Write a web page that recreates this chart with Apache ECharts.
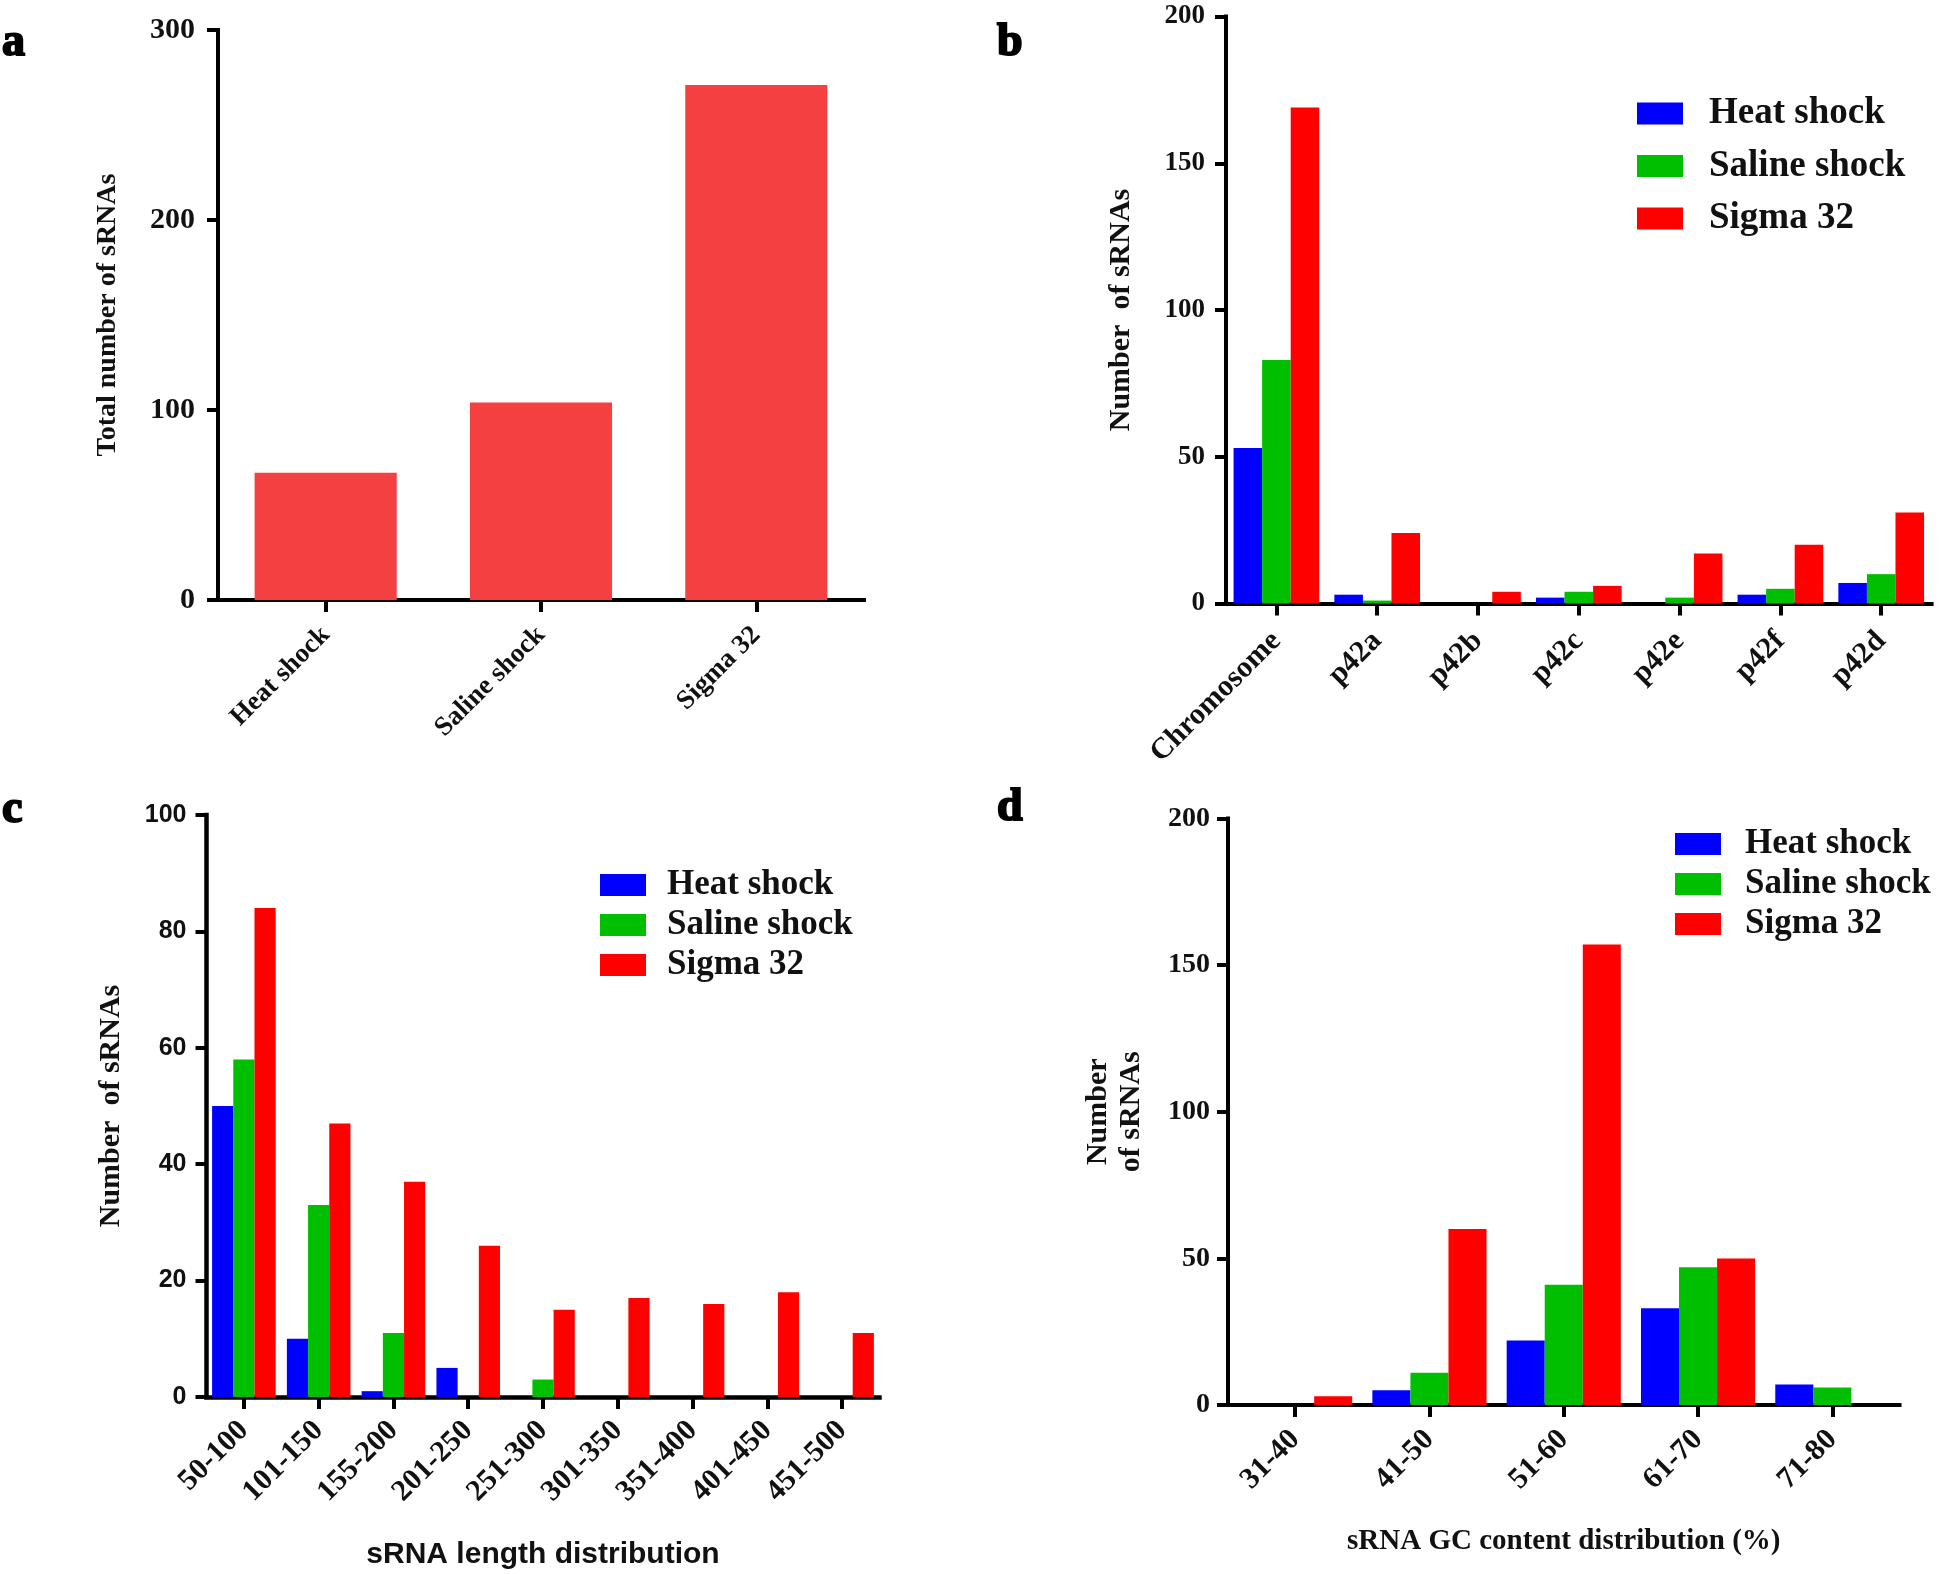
<!DOCTYPE html>
<html>
<head>
<meta charset="utf-8">
<script src="https://cdn.jsdelivr.net/npm/echarts@6/dist/echarts.min.js"></script>
<style>
  html, body { margin: 0; padding: 0; background: #fff; }
  #chart { width: 1946px; height: 1574px; }
</style>
</head>
<body>
<div id="chart"></div>
<script>
// ---- Data ----
const totalCategories = ['Heat shock', 'Saline shock', 'Sigma 32'];
const totalCounts = [67, 104, 271];
const totalTicks = [0, 100, 200, 300];

const seriesNames = ['Heat shock', 'Saline shock', 'Sigma 32'];

const replicons = ['Chromosome', 'p42a', 'p42b', 'p42c', 'p42e', 'p42f', 'p42d'];
const repHeat = [53, 3, 0, 2, 0, 3, 7];
const repSaline = [83, 1, 0, 4, 2, 5, 10];
const repSigma = [169, 24, 4, 6, 17, 20, 31];

const lengthBins = ['50-100', '101-150', '155-200', '201-250', '251-300', '301-350', '351-400', '401-450', '451-500'];
const lenHeat = [50, 10, 1, 5, 0, 0, 0, 0, 0];
const lenSaline = [58, 33, 11, 0, 3, 0, 0, 0, 0];
const lenSigma = [84, 47, 37, 26, 15, 17, 16, 18, 11];

const gcBins = ['31-40', '41-50', '51-60', '61-70', '71-80'];
const gcHeat = [0, 5, 22, 33, 7];
const gcSaline = [0, 11, 41, 47, 6];
const gcSigma = [3, 60, 157, 50, 0];

// ---- Styles ----
const SERIF = "'Liberation Serif', 'Times New Roman', serif";
const SANS = "'Liberation Sans', Arial, sans-serif";
const BLUE = '#0000ff', GREEN = '#00bf00', RED = '#ff0000', TOTAL_RED = '#f44040';
const INK = '#111';

function xCat(gridIndex, data, fontSize, margin, lineWidth, extra) {
  return Object.assign({
    type: 'category', gridIndex, data,
    axisLine: { show: true, lineStyle: { color: '#000', width: lineWidth, cap: 'square' } },
    axisTick: { show: true, alignWithLabel: true, length: 12, lineStyle: { color: '#000', width: 4 } },
    axisLabel: { interval: 0, rotate: 45, margin, color: INK, fontFamily: SERIF, fontWeight: 'bold', fontSize },
    splitLine: { show: false }
  }, extra || {});
}
function yVal(gridIndex, max, interval, font, fontSize, margin, lineWidth, name, nameGap, nameFont, extraName) {
  return {
    type: 'value', gridIndex, min: 0, max, interval,
    axisLine: { show: true, lineStyle: { color: '#000', width: lineWidth, cap: 'square' } },
    axisTick: { show: true, length: 11, lineStyle: { color: '#000', width: 4 } },
    axisLabel: { margin, color: INK, fontFamily: font, fontWeight: 'bold', fontSize },
    splitLine: { show: false },
    name, nameLocation: 'middle', nameRotate: 90, nameGap,
    nameTextStyle: Object.assign({ color: INK, fontFamily: SERIF, fontWeight: 'bold', fontSize: nameFont }, extraName || {})
  };
}
function legendAt(left, top, fontSize, itemGap, textPad) {
  return {
    data: seriesNames, orient: 'vertical', left, top, padding: 0,
    icon: 'rect', itemWidth: 46, itemHeight: 22, itemGap, selectedMode: false,
    textStyle: { color: INK, fontFamily: SERIF, fontWeight: 'bold', fontSize, padding: [0, 0, 0, textPad] }
  };
}
function groupSeries(axisIndex, heat, saline, sigma) {
  const cols = [BLUE, GREEN, RED];
  return [heat, saline, sigma].map((d, i) => ({
    type: 'bar', name: seriesNames[i], xAxisIndex: axisIndex, yAxisIndex: axisIndex,
    data: d, itemStyle: { color: cols[i] }, barGap: '0%', barCategoryGap: '15%'
  }));
}
function letter(text, left, top) {
  return { text, left, top, padding: 0,
    textStyle: { color: '#000', fontFamily: SERIF, fontWeight: 'bold', fontSize: 46,
      textBorderColor: '#000', textBorderWidth: 2 } };
}

const option = {
  animation: false,
  backgroundColor: '#ffffff',
  title: [letter('a', 2, 20), letter('b', 997, 20), letter('c', 2, 787), letter('d', 997, 785)],
  grid: [
    { left: 218, top: 30, width: 646, height: 570 },
    { left: 1226, top: 16.5, width: 705.6, height: 587 },
    { left: 206.5, top: 815, width: 673, height: 582 },
    { left: 1228, top: 818.5, width: 671.5, height: 586.5 }
  ],
  xAxis: [
    xCat(0, totalCategories, 27, 31, 4),
    xCat(1, replicons, 30, 33, 4),
    xCat(2, lengthBins, 30, 29, 4.5, {
      name: 'sRNA length distribution', nameLocation: 'middle', nameGap: 143,
      nameTextStyle: { color: INK, fontFamily: SANS, fontWeight: 'bold', fontSize: 30 }
    }),
    xCat(3, gcBins, 30, 30, 4, {
      name: 'sRNA GC content distribution (%)', nameLocation: 'middle', nameGap: 122,
      nameTextStyle: { color: INK, fontFamily: SERIF, fontWeight: 'bold', fontSize: 29 }
    })
  ],
  yAxis: [
    yVal(0, totalTicks[totalTicks.length - 1], 100, SERIF, 30, 23, 4, 'Total number of sRNAs', 96, 28),
    yVal(1, 200, 50, SERIF, 27, 21, 4, 'Number  of sRNAs', 90, 30),
    yVal(2, 100, 20, SANS, 25, 20, 4.5, 'Number  of sRNAs', 80, 30),
    yVal(3, 200, 50, SERIF, 28, 18, 4, 'Number\nof sRNAs', 80, 30, { lineHeight: 33 })
  ],
  legend: [
    legendAt(1637, 95, 37, 15.5, 21),
    legendAt(600, 867.5, 35, 5, 16),
    legendAt(1675, 826.5, 35, 5, 19)
  ],
  series: [
    { type: 'bar', name: 'Total sRNAs', xAxisIndex: 0, yAxisIndex: 0, data: totalCounts,
      barWidth: '66%', itemStyle: { color: TOTAL_RED } }
  ].concat(
    groupSeries(1, repHeat, repSaline, repSigma),
    groupSeries(2, lenHeat, lenSaline, lenSigma),
    groupSeries(3, gcHeat, gcSaline, gcSigma)
  )
};

const chart = echarts.init(document.getElementById('chart'), null, { renderer: 'canvas' });
chart.setOption(option);
</script>
</body>
</html>
